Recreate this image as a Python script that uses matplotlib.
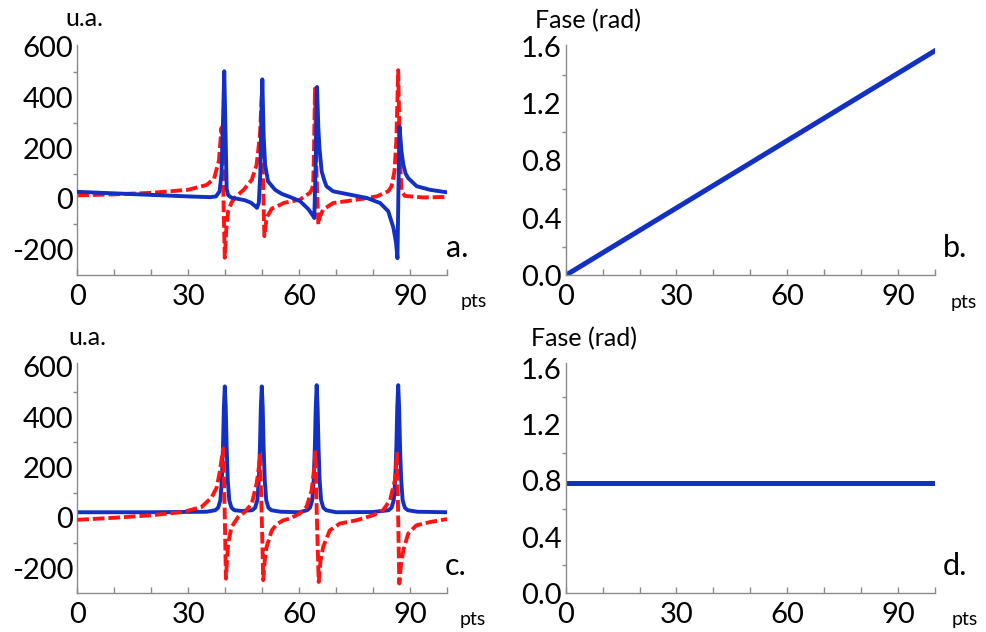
import matplotlib
matplotlib.use('Agg')
import matplotlib.pyplot as plt

plt.rcParams['font.family'] = ['Lato', 'DejaVu Sans']

# ---------------- data ----------------
# panel a: spectrum with linear phase error
xa_blue = [0, 10, 20, 30, 36, 37.5, 38.5, 39.0, 39.4, 39.75, 40.1, 40.4, 40.8, 41.7, 43.5,
           45.3, 47.0, 48.1, 48.6, 49.1, 49.5, 49.8, 50.05, 50.4, 50.8, 51.6, 53.5, 55.3, 57.5, 60.2,
           62.5, 63.7, 64.1, 64.5, 64.85, 65.2, 65.5, 66.1, 66.9, 67.4, 69.2, 73.7, 78.3, 81.9, 84.1,
           85.5, 86.2, 86.6, 86.85, 87.15, 87.4, 87.7, 88.2, 88.8, 89.5, 91.8, 95.4, 100]
ya_blue = [28, 22, 16, 10, 7, 10, 30, 100, 300, 502, 260, 40, 15, 5, 0,
           -5, -15, -28, -35, -15, 100, 330, 470, 250, 134, 69, 36, 20, 8, -8,
           -40, -65, -75, 150, 440, 280, 200, 108, 69, 50, 30, 17, 4, -16, -48,
           -113, -170, -233, 20, 284, 240, 186, 134, 100, 82, 50, 36, 26]

xa_red = [0, 10, 20, 30, 35, 37, 38.3, 39.0, 39.3, 39.6, 39.9, 40.3, 40.8, 41.7, 42.6,
          44.0, 45.0, 47.2, 48.5, 49.4, 49.9, 50.2, 50.6, 51.2, 52.6, 53.9, 56.0, 60.2, 62.9, 63.4,
          63.8, 64.0, 64.3, 64.7, 65.2, 65.6, 66.5, 69.2, 75.6, 81.0, 84.1, 85.0, 85.8, 86.3, 86.8,
          87.3, 87.7, 88.6, 93.6, 100]
ya_red = [14, 18, 24, 36, 55, 80, 150, 280, 200, -50, -231, -120, -48, -15, 5,
          23, 36, 75, 134, 250, 405, 100, -146, -74, -38, -30, -15, -3, 24, 36,
          56, 173, 434, 100, -100, -70, -42, -16, -3, 10, 30, 50, 110, 230, 506,
          150, 30, 12, 6, 8]

# panel b: phase (linear)
xb = [0, 100]
yb = [0.0, 1.57]

# panel c: phase-corrected spectrum
xc_blue = [0, 20, 35,
           37.3, 38.1, 38.7, 39.1, 39.4, 39.65, 39.9, 40.15, 40.4, 40.7, 41.1, 41.7, 42.5,
           44.5,
           47.3, 48.1, 48.7, 49.1, 49.4, 49.65, 49.9, 50.15, 50.4, 50.7, 51.1, 51.7, 52.5,
           55, 60,
           62.15, 62.95, 63.55, 63.95, 64.25, 64.5, 64.75, 65.0, 65.25, 65.55, 65.95, 66.55, 67.35,
           70, 80,
           84.2, 85.0, 85.6, 86.0, 86.3, 86.55, 86.8, 87.05, 87.3, 87.6, 88.0, 88.6, 89.4,
           92, 100]
yc_blue = [22, 22, 24,
           30, 40, 70, 150, 280, 440, 522, 440, 280, 150, 70, 40, 30,
           27,
           30, 40, 70, 150, 280, 440, 522, 440, 280, 150, 70, 40, 30,
           24, 22,
           30, 40, 70, 150, 280, 440, 527, 440, 280, 150, 70, 40, 30,
           22, 23,
           30, 40, 70, 150, 280, 440, 527, 440, 280, 150, 70, 40, 30,
           24, 22]

xc_red = [0, 10, 20, 28.7, 33.6, 36.3, 37.7, 38.5, 39.2, 39.5, 39.9, 40.2, 40.5, 40.8, 41.7,
          43.5, 45.3, 47.2, 48.5, 49.1, 49.4, 49.9, 50.3, 50.7, 51.2, 52.6, 54.0, 55.7, 57.5, 60.2,
          62.0, 63.4, 64.1, 64.4, 64.8, 65.3, 65.8, 66.5, 68.3, 71.0, 75.5, 80.0, 82.7, 84.6, 85.9,
          86.3, 86.5, 86.8, 87.1, 87.6, 88.2, 89.5, 91.7, 95.4, 100]
yc_red = [-8, 0, 10, 23, 43, 80, 120, 180, 250, 275, 0, -242, -170, -103, -37,
          3, 23, 56, 136, 200, 248, 0, -248, -170, -116, -50, -25, -10, -3, 17,
          43, 109, 200, 261, 0, -255, -170, -116, -50, -23, -10, 10, 30, 70, 149,
          220, 255, 0, -261, -180, -129, -63, -30, -17, -5]

# panel d: phase (constant)
xd = [0, 100]
yd = [0.785, 0.785]

spec_yticks = [-200, 0, 200, 400, 600]
spec_yminor = [-100, 100, 300, 500]
phase_yticks = [0.0, 0.4, 0.8, 1.2, 1.6]
phase_yminor = [0.2, 0.6, 1.0, 1.4]
xticks = [0, 30, 60, 90]
xminor = [10, 20, 40, 50, 70, 80, 100]

# ---------------- style ----------------
BLUE = '#1230c2'
RED = '#ff1414'
GRAY = '#8a8a8a'
W, H = 987, 632
fig = plt.figure(figsize=(W / 100, H / 100), dpi=100)


def rect(l, t, r, b):
    return [l / W, 1 - b / H, (r - l) / W, (b - t) / H]


def style(ax, yt, ym, ylim, yfmt):
    for s in ['top', 'right']:
        ax.spines[s].set_visible(False)
    for s in ['left', 'bottom']:
        ax.spines[s].set_color(GRAY)
        ax.spines[s].set_linewidth(1.0)
    ax.set_xlim(0, 100)
    ax.set_ylim(*ylim)
    ax.set_xticks(xticks)
    ax.set_xticklabels([str(v) for v in xticks])
    ax.set_xticks(xminor, minor=True)
    ax.set_yticks(yt)
    ax.set_yticklabels([yfmt.format(v) for v in yt])
    ax.set_yticks(ym, minor=True)
    ax.tick_params(axis='x', which='both', direction='in', length=4.5, width=1,
                   color=GRAY, labelsize=21, pad=6)
    ax.tick_params(axis='y', which='major', length=0, labelsize=21, pad=3)
    ax.tick_params(axis='y', which='minor', direction='out', length=3, width=1, color=GRAY)
    ax.patch.set_alpha(0)


ax_a = fig.add_axes(rect(77.3, 45, 447, 275.3))
ax_b = fig.add_axes(rect(565.7, 45, 935, 275.3))
ax_c = fig.add_axes(rect(77.3, 363, 447, 593.3))
ax_d = fig.add_axes(rect(565.7, 363, 935, 593.3))

dash = (3.0, 1.0)
LW = 2.8
ax_a.plot(xa_red, ya_red, color=RED, lw=LW, dashes=dash, zorder=2)
ax_a.plot(xa_blue, ya_blue, color=BLUE, lw=LW, zorder=3)
style(ax_a, spec_yticks, spec_yminor, (-300, 605), '{:d}')

ax_c.plot(xc_blue, yc_blue, color=BLUE, lw=LW, zorder=2)
ax_c.plot(xc_red, yc_red, color=RED, lw=LW, dashes=dash, zorder=3)
style(ax_c, spec_yticks, spec_yminor, (-300, 615), '{:d}')

ax_b.plot(xb, yb, color=BLUE, lw=3.6, solid_capstyle='projecting')
style(ax_b, phase_yticks, phase_yminor, (0, 1.61), '{:.1f}')

ax_d.plot(xd, yd, color=BLUE, lw=3.6, solid_capstyle='projecting')
style(ax_d, phase_yticks, phase_yminor, (0, 1.64), '{:.1f}')


def ftext(x, y, s, size, ha='left'):
    fig.text(x / W, 1 - y / H, s, fontsize=size, ha=ha, va='baseline', color='black')


ftext(65, 26, 'u.a.', 18)
ftext(68, 345, 'u.a.', 18)
ftext(535, 28, 'Fase (rad)', 18)
ftext(531, 346, 'Fase (rad)', 18)
ftext(461, 307, 'pts', 14)
ftext(460, 625, 'pts', 14)
ftext(951, 308, 'pts', 14)
ftext(952, 625, 'pts', 14)
ftext(446, 257, 'a.', 22)
ftext(445, 575, 'c.', 22)
ftext(943, 257, 'b.', 22)
ftext(943, 575, 'd.', 22)

fig.savefig('out.png', dpi=100)
